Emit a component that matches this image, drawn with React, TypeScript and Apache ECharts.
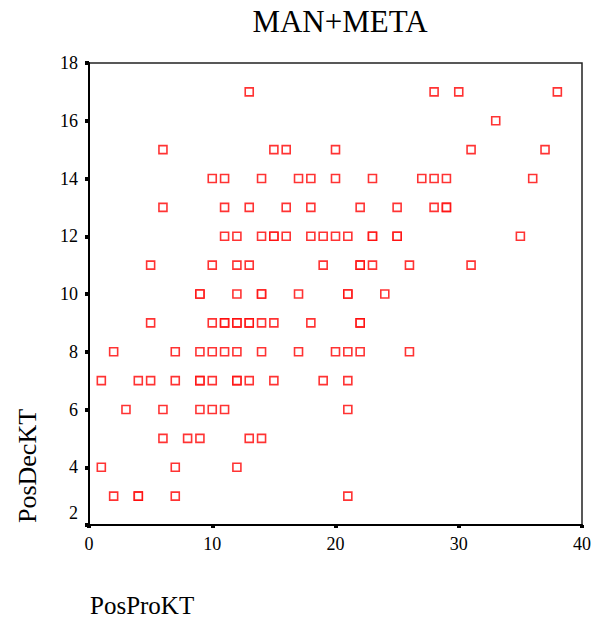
import React, { useEffect, useRef } from "react";
import * as echarts from "echarts";

const titleText = "MAN+META";
const xName = "PosProKT";
const yName = "PosDecKT";
const xTicks = [0, 10, 20, 30, 40];
const yTicks = [2, 4, 6, 8, 10, 12, 14, 16, 18];

// PosProKT values
const proKT = [
  13, 28, 30, 38,
  33,
  6, 15, 16, 20, 31, 37,
  10, 11, 14, 17, 18, 20, 23, 27, 28, 29, 36,
  6, 11, 13, 16, 18, 22, 25, 28, 29, 29,
  11, 12, 14, 15, 15, 16, 18, 19, 20, 21, 23, 23, 25, 25, 35,
  5, 10, 12, 13, 19, 22, 22, 23, 26, 31,
  9, 9, 12, 14, 14, 17, 21, 21, 24,
  5, 10, 11, 11, 12, 12, 13, 13, 14, 15, 18, 22, 22,
  2, 7, 9, 10, 11, 12, 14, 17, 20, 21, 22, 26,
  1, 4, 5, 7, 9, 9, 10, 12, 12, 13, 15, 19, 21,
  3, 6, 9, 10, 11, 21,
  6, 8, 9, 13, 14,
  1, 7, 12,
  2, 4, 4, 7, 21,
];
// PosDecKT values
const decKT = [
  17, 17, 17, 17,
  16,
  15, 15, 15, 15, 15, 15,
  14, 14, 14, 14, 14, 14, 14, 14, 14, 14, 14,
  13, 13, 13, 13, 13, 13, 13, 13, 13, 13,
  12, 12, 12, 12, 12, 12, 12, 12, 12, 12, 12, 12, 12, 12, 12,
  11, 11, 11, 11, 11, 11, 11, 11, 11, 11,
  10, 10, 10, 10, 10, 10, 10, 10, 10,
  9, 9, 9, 9, 9, 9, 9, 9, 9, 9, 9, 9, 9,
  8, 8, 8, 8, 8, 8, 8, 8, 8, 8, 8, 8,
  7, 7, 7, 7, 7, 7, 7, 7, 7, 7, 7, 7, 7,
  6, 6, 6, 6, 6, 6,
  5, 5, 5, 5, 5,
  4, 4, 4,
  3, 3, 3, 3, 3,
];

const FONT = '"Liberation Serif", "Times New Roman", serif';

export default function App() {
  const ref = useRef<HTMLDivElement>(null);
  useEffect(() => {
    if (!ref.current) return;
    const chart = echarts.init(ref.current, undefined, { renderer: "svg" });
    const data = proKT.map((x, i) => [x, decKT[i]]);
    chart.setOption({
      animation: false,
      backgroundColor: "#ffffff",
      title: {
        text: titleText,
        left: 335,
        top: 1,
        textAlign: "center",
        textStyle: { fontFamily: FONT, fontSize: 31, fontWeight: "normal", color: "#000" },
      },
      grid: {
        left: 89,
        top: 63,
        width: 493,
        height: 462,
        show: true,
        borderColor: "#222",
        borderWidth: 1.5,
        backgroundColor: "transparent",
      },
      xAxis: {
        type: "value",
        min: xTicks[0],
        max: xTicks[xTicks.length - 1],
        interval: 10,
        splitLine: { show: false },
        axisLine: { show: true, onZero: false, lineStyle: { color: "#000", width: 2 } },
        axisTick: { show: true, length: 3, lineStyle: { color: "#000", width: 4 } },
        axisLabel: { fontFamily: FONT, fontSize: 18, color: "#000", margin: 10 },
      },
      yAxis: {
        type: "value",
        min: yTicks[0],
        max: yTicks[yTicks.length - 1],
        interval: 2,
        splitLine: { show: false },
        axisLine: { show: true, onZero: false, lineStyle: { color: "#000", width: 2 } },
        axisTick: { show: true, length: 4, lineStyle: { color: "#000", width: 4 } },
        axisLabel: {
          fontFamily: FONT,
          fontSize: 18,
          color: "#000",
          margin: 11,
          formatter: (v: number) => (v === yTicks[0] ? "{low|" + v + "}" : String(v)),
          rich: { low: { fontFamily: FONT, fontSize: 18, color: "#000", padding: [0, 0, 24, 0] } },
        },
      },
      graphic: [
        {
          type: "text",
          x: 27,
          y: 466,
          rotation: Math.PI / 2,
          style: {
            text: yName,
            font: `26px ${FONT}`,
            fill: "#000",
            textAlign: "center",
            textVerticalAlign: "middle",
          },
        },
        {
          type: "text",
          x: 90,
          y: 605,
          style: {
            text: xName,
            font: `25px ${FONT}`,
            fill: "#000",
            textAlign: "left",
            textVerticalAlign: "middle",
          },
        },
      ],
      series: [
        {
          type: "scatter",
          data,
          symbol: "rect",
          symbolSize: 8,
          itemStyle: { color: "#ffffff", borderColor: "#ff0000", borderWidth: 1.6 },
          emphasis: { disabled: true },
        },
      ],
    });
    return () => chart.dispose();
  }, []);
  return (
    <div
      ref={ref}
      style={{ position: "fixed", left: 0, top: 0, width: 595, height: 622, background: "#fff" }}
    />
  );
}
